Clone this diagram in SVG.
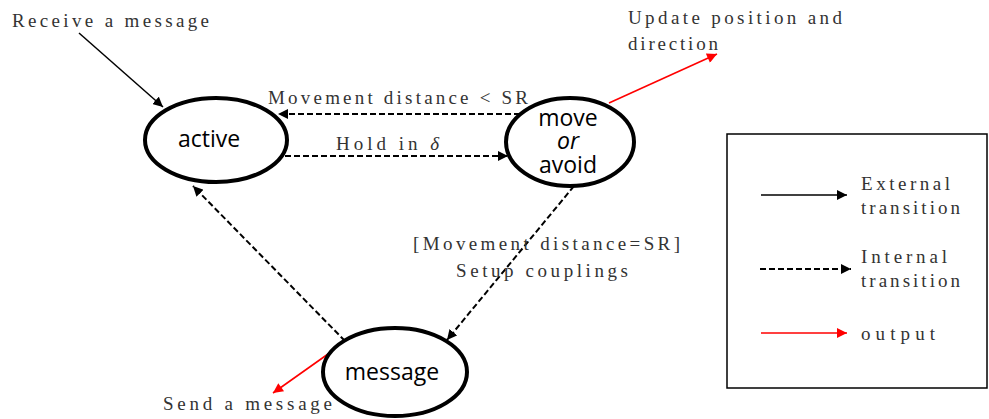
<svg xmlns="http://www.w3.org/2000/svg" width="989" height="419" viewBox="0 0 989 419">
<style>
.st{fill:#fff;stroke:#000;stroke-width:4}
.nl{font-family:"Open Sans","Liberation Sans",sans-serif;font-size:23px;fill:#000;text-anchor:middle}
.lb{font-family:"Liberation Serif",serif;font-size:19px;fill:#333}
.ext{stroke:#000;stroke-width:1.5;fill:none}
.int{stroke:#000;stroke-width:2;stroke-dasharray:6,3;fill:none}
.out{stroke:#f00;stroke-width:1.6;fill:none}
</style>
<defs>
<marker id="ab" viewBox="0 0 10 10" refX="10" refY="5" markerWidth="10" markerHeight="10" markerUnits="userSpaceOnUse" orient="auto"><path d="M0,0L10,5L0,10z" fill="#000"/></marker>
<marker id="ar" viewBox="0 0 10 10" refX="10" refY="5" markerWidth="13" markerHeight="10" markerUnits="userSpaceOnUse" orient="auto"><path d="M0,0L10,5L0,10z" fill="#f00"/></marker>
</defs>
<rect width="989" height="419" fill="#fff"/>
<g id="connectors">
<line class="ext" x1="79" y1="33" x2="163" y2="107" marker-end="url(#ab)"/>
<line class="int" x1="520" y1="114" x2="278" y2="114" marker-end="url(#ab)"/>
<line class="int" x1="285" y1="156" x2="508" y2="156" marker-end="url(#ab)"/>
<line class="out" x1="609" y1="103" x2="717" y2="54" marker-end="url(#ar)"/>
<line class="int" x1="574" y1="186" x2="447" y2="340" marker-end="url(#ab)"/>
<line class="int" x1="345" y1="341" x2="193" y2="186" marker-end="url(#ab)"/>
<line class="out" x1="345" y1="342" x2="273" y2="393" marker-end="url(#ar)"/>
</g>
<g id="active"><ellipse class="st" cx="216" cy="140" rx="71" ry="42"/><text class="nl" x="209" y="147">active</text></g>
<g id="move"><ellipse class="st" cx="570" cy="142" rx="64" ry="44"/><text class="nl" x="568" y="126">move</text><text class="nl" x="568" y="149" font-style="italic">or</text><text class="nl" x="568" y="173">avoid</text></g>
<g id="message"><ellipse class="st" cx="395" cy="372" rx="72" ry="44"/><text class="nl" x="392" y="380">message</text></g>
<g id="labels">
<text class="lb" x="12" y="27" textLength="197" lengthAdjust="spacing">Receive a message</text>
<text class="lb" x="628" y="24" textLength="214" lengthAdjust="spacing">Update position and</text>
<text class="lb" x="628" y="50" textLength="90" lengthAdjust="spacing">direction</text>
<text class="lb" x="268" y="104" textLength="260" lengthAdjust="spacing">Movement distance &lt; SR</text>
<text class="lb" x="336" y="150" textLength="103" lengthAdjust="spacing">Hold in <tspan font-style="italic">δ</tspan></text>
<text class="lb" x="413" y="250" textLength="267" lengthAdjust="spacing">[Movement distance=SR]</text>
<text class="lb" x="456" y="277" textLength="172" lengthAdjust="spacing">Setup couplings</text>
<text class="lb" x="163" y="410" textLength="169" lengthAdjust="spacing">Send a message</text>
</g>
<g id="legend">
<rect x="727" y="134" width="260" height="254" fill="none" stroke="#000" stroke-width="1.5"/>
<line class="ext" x1="761" y1="195" x2="847" y2="195" marker-end="url(#ab)"/>
<line class="int" x1="760" y1="269" x2="851" y2="269" marker-end="url(#ab)"/>
<line class="out" x1="761" y1="333" x2="847" y2="333" marker-end="url(#ar)"/>
<text class="lb" x="861" y="190" textLength="89" lengthAdjust="spacing">External</text>
<text class="lb" x="861" y="214" textLength="99" lengthAdjust="spacing">transition</text>
<text class="lb" x="861" y="263" textLength="86" lengthAdjust="spacing">Internal</text>
<text class="lb" x="861" y="287" textLength="99" lengthAdjust="spacing">transition</text>
<text class="lb" x="861" y="340" textLength="74" lengthAdjust="spacing">output</text>
</g>
</svg>
